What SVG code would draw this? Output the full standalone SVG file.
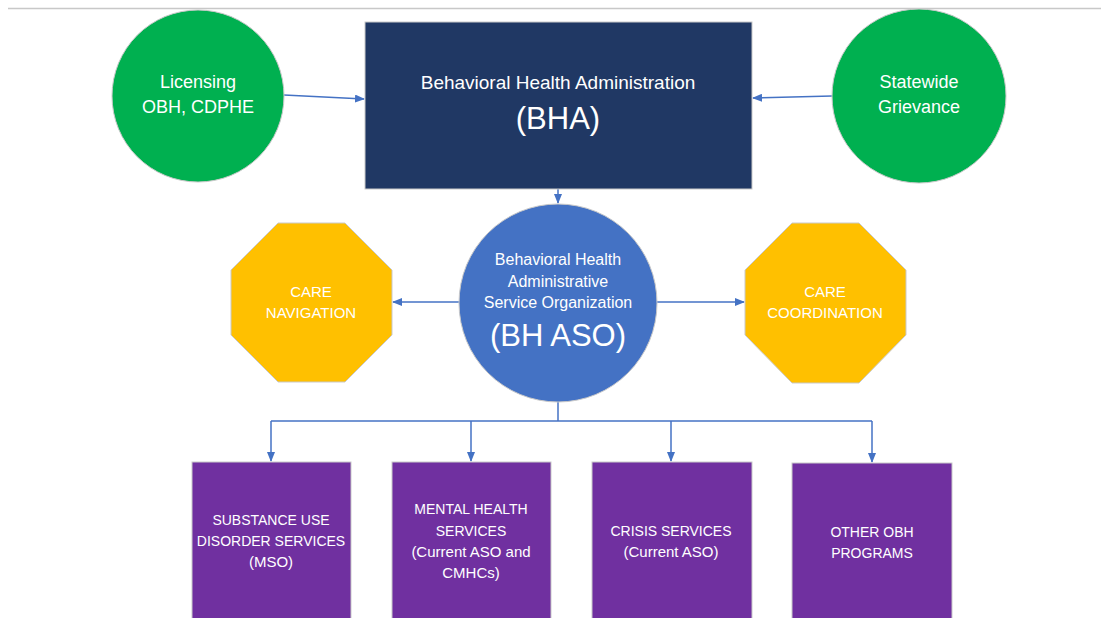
<svg xmlns="http://www.w3.org/2000/svg" width="1101" height="618" viewBox="0 0 1101 618">
<defs>
<marker id="ah" markerWidth="10" markerHeight="8" refX="9" refY="4" orient="auto" markerUnits="userSpaceOnUse">
<path d="M0,0 L10,4 L0,8 Z" fill="#4472C4"/>
</marker>
<style>
.t{font-family:"Liberation Sans",Arial,sans-serif;fill:#FFFFFF;text-anchor:middle}
.s{font-size:15px}
.k{font-size:14px}
.a{font-size:16px}
.g{font-size:18px}
.m{font-size:19px}
.b{font-size:31px}
.c{stroke:#4472C4;stroke-width:1.5;fill:none}
.nd{stroke:#C9C9C9;stroke-width:1}
</style>
</defs>
<rect width="1101" height="618" fill="#FFFFFF"/>
<line x1="8" y1="8.5" x2="1101" y2="8.5" stroke="#C8C8C8" stroke-width="1.5"/>
<g id="connectors">
<line class="c" x1="284" y1="95" x2="364" y2="99" marker-end="url(#ah)"/>
<line class="c" x1="832" y1="96" x2="753" y2="98" marker-end="url(#ah)"/>
<line class="c" x1="558" y1="189" x2="558" y2="203" marker-end="url(#ah)"/>
<line class="c" x1="460" y1="302" x2="393" y2="302" marker-end="url(#ah)"/>
<line class="c" x1="657" y1="302" x2="744" y2="302" marker-end="url(#ah)"/>
<polyline class="c" points="558,402 558,421"/>
<line class="c" x1="271" y1="421" x2="872" y2="421"/>
<line class="c" x1="271" y1="421" x2="271" y2="461" marker-end="url(#ah)"/>
<line class="c" x1="471" y1="421" x2="471" y2="461" marker-end="url(#ah)"/>
<line class="c" x1="671" y1="421" x2="671" y2="461" marker-end="url(#ah)"/>
<line class="c" x1="872" y1="421" x2="872" y2="462" marker-end="url(#ah)"/>
</g>
<g id="licensing">
<circle class="nd" cx="198" cy="96" r="86" fill="#00B050"/>
<text class="t g" x="198" y="88">Licensing</text>
<text class="t g" x="198" y="113">OBH, CDPHE</text>
</g>
<g id="grievance">
<circle class="nd" cx="919" cy="96" r="87" fill="#00B050"/>
<text class="t g" x="919" y="88">Statewide</text>
<text class="t g" x="919" y="113">Grievance</text>
</g>
<g id="bha">
<rect class="nd" x="365" y="22" width="387" height="167" fill="#203864"/>
<text class="t m" x="558" y="89">Behavioral Health Administration</text>
<text class="t b" x="558" y="129">(BHA)</text>
</g>
<g id="bhaso">
<circle class="nd" cx="558" cy="303" r="99" fill="#4472C4"/>
<text class="t a" x="558" y="265">Behavioral Health</text>
<text class="t a" x="558" y="287">Administrative</text>
<text class="t a" x="558" y="308">Service Organization</text>
<text class="t b" x="558" y="346">(BH ASO)</text>
</g>
<g id="care-navigation">
<polygon class="nd" points="278,223 345,223 392,270 392,335 345,382 278,382 231,335 231,270" fill="#FFC000"/>
<text class="t s" x="311" y="297">CARE</text>
<text class="t s" x="311" y="318">NAVIGATION</text>
</g>
<g id="care-coordination">
<polygon class="nd" points="792,223 859,223 906,270 906,335 859,383 792,383 745,335 745,270" fill="#FFC000"/>
<text class="t s" x="825" y="297">CARE</text>
<text class="t s" x="825" y="318">COORDINATION</text>
</g>
<g id="sud">
<rect class="nd" x="192" y="462" width="159" height="170" fill="#7030A0"/>
<text class="t k" x="271" y="525">SUBSTANCE USE</text>
<text class="t k" x="271" y="546">DISORDER SERVICES</text>
<text class="t s" x="271" y="567">(MSO)</text>
</g>
<g id="mental-health">
<rect class="nd" x="392" y="462" width="159" height="170" fill="#7030A0"/>
<text class="t k" x="471" y="514">MENTAL HEALTH</text>
<text class="t k" x="471" y="536">SERVICES</text>
<text class="t s" x="471" y="557">(Current ASO and</text>
<text class="t s" x="471" y="578">CMHCs)</text>
</g>
<g id="crisis">
<rect class="nd" x="592" y="462" width="160" height="170" fill="#7030A0"/>
<text class="t k" x="671" y="536">CRISIS SERVICES</text>
<text class="t s" x="671" y="557">(Current ASO)</text>
</g>
<g id="other">
<rect class="nd" x="792" y="463" width="160" height="170" fill="#7030A0"/>
<text class="t k" x="872" y="537">OTHER OBH</text>
<text class="t k" x="872" y="558">PROGRAMS</text>
</g>
</svg>
